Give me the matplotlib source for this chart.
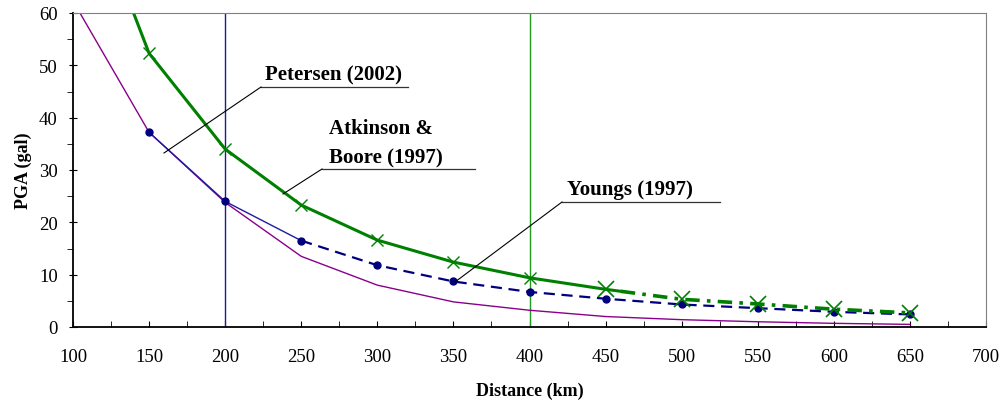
import numpy as np
import matplotlib.pyplot as plt
from matplotlib.ticker import MultipleLocator

dist = [100, 150, 200, 250, 300, 350, 400, 450, 500, 550, 600, 650]
petersen = [62.3, 37.2, 23.8, 13.5, 8.0, 4.8, 3.2, 2.0, 1.4, 1.0, 0.7, 0.5]
youngs_d = [150, 200, 250, 300, 350, 400, 450, 500, 550, 600, 650]
youngs = [37.2, 24.0, 16.5, 11.8, 8.7, 6.7, 5.4, 4.3, 3.6, 2.9, 2.4]
ab_d = [100, 150, 200, 250, 300, 350, 400, 450, 500, 550, 600, 650]
ab = [90.0, 52.3, 34.0, 23.3, 16.6, 12.4, 9.4, 7.2, 5.3, 4.4, 3.4, 2.7]

plt.rcParams['font.family'] = ['Liberation Serif', 'DejaVu Serif']
fig = plt.figure(figsize=(10.05, 4.02), dpi=100)
ax = fig.add_axes([73/1005, 1-328/402, 913/1005, 314/402])

ax.axvline(200, color='#1c1c8c', lw=1.0)
ax.axvline(400, color='#1f9a1f', lw=1.0)

ax.plot(dist, petersen, color='#8b008b', lw=1.0)
# Youngs: solid at start, dashed after 250 km
ax.plot(youngs_d[:3], youngs[:3], color='#1c1ca0', lw=1.0)
ax.plot(youngs_d[2:], youngs[2:], color='#00007f', lw=1.6, ls=(0, (5, 3)))
ax.plot(youngs_d, youngs, 'o', color='#00007f', ms=5)

# Atkinson & Boore: solid to ~460 km, dash-dot after
cut = 460
ab_x = np.array(ab_d, float)
ab_y = np.array(ab, float)
y_cut = np.interp(cut, ab_x, ab_y)
m1 = ab_x < cut
ax.plot(np.append(ab_x[m1], cut), np.append(ab_y[m1], y_cut), color='#008000', lw=2.2)
ax.plot(np.insert(ab_x[~m1], 0, cut), np.insert(ab_y[~m1], 0, y_cut),
        color='#008000', lw=2.6, ls=(0, (4, 2, 1, 2)))
ax.plot(ab_x[1:7], ab_y[1:7], 'x', color='#008000', ms=9, mew=1.0)
ax.plot(ab_x[7:], ab_y[7:], 'x', color='#008000', ms=12, mew=1.2)

ax.set_xlim(100, 700)
ax.set_ylim(0, 60)
ax.xaxis.set_major_locator(MultipleLocator(50))
ax.xaxis.set_minor_locator(MultipleLocator(25))
ax.yaxis.set_major_locator(MultipleLocator(10))
ax.yaxis.set_minor_locator(MultipleLocator(5))
ax.tick_params(axis='x', which='both', direction='in', length=4, labelsize=13.5, pad=15)
ax.tick_params(axis='y', which='major', direction='inout', length=6, labelsize=13.5, pad=8)
ax.tick_params(axis='y', which='minor', direction='out', length=4)
for s in ['top', 'right']:
    ax.spines[s].set_color('#808080')
    ax.spines[s].set_linewidth(0.8)
for s in ['left', 'bottom']:
    ax.spines[s].set_linewidth(1.3)

ax.set_xlabel('Distance (km)', fontsize=13, fontweight='bold', labelpad=12)
ax.set_ylabel('PGA (gal)', fontsize=13, fontweight='bold', labelpad=5)

def callout(text, tx, ty, ux0, ux1, uy, px, py):
    fig.text(tx/1005, 1-ty/402, text, fontsize=15, fontweight='bold', va='bottom', ha='left',
             linespacing=1.6)
    fig.add_artist(plt.Line2D([ux0/1005, ux1/1005], [1-uy/402, 1-uy/402], color='#333333', lw=0.9))
    fig.add_artist(plt.Line2D([ux0/1005, px/1005], [1-uy/402, 1-py/402], color='black', lw=0.8))

callout('Petersen (2002)', 265, 85, 261, 408, 88, 164, 154)
callout('Atkinson &\nBoore (1997)', 329, 168, 322, 475, 170, 283, 195)
callout('Youngs (1997)', 567, 200, 562, 720, 203, 455, 283)

fig.savefig('out.png', dpi=100)
